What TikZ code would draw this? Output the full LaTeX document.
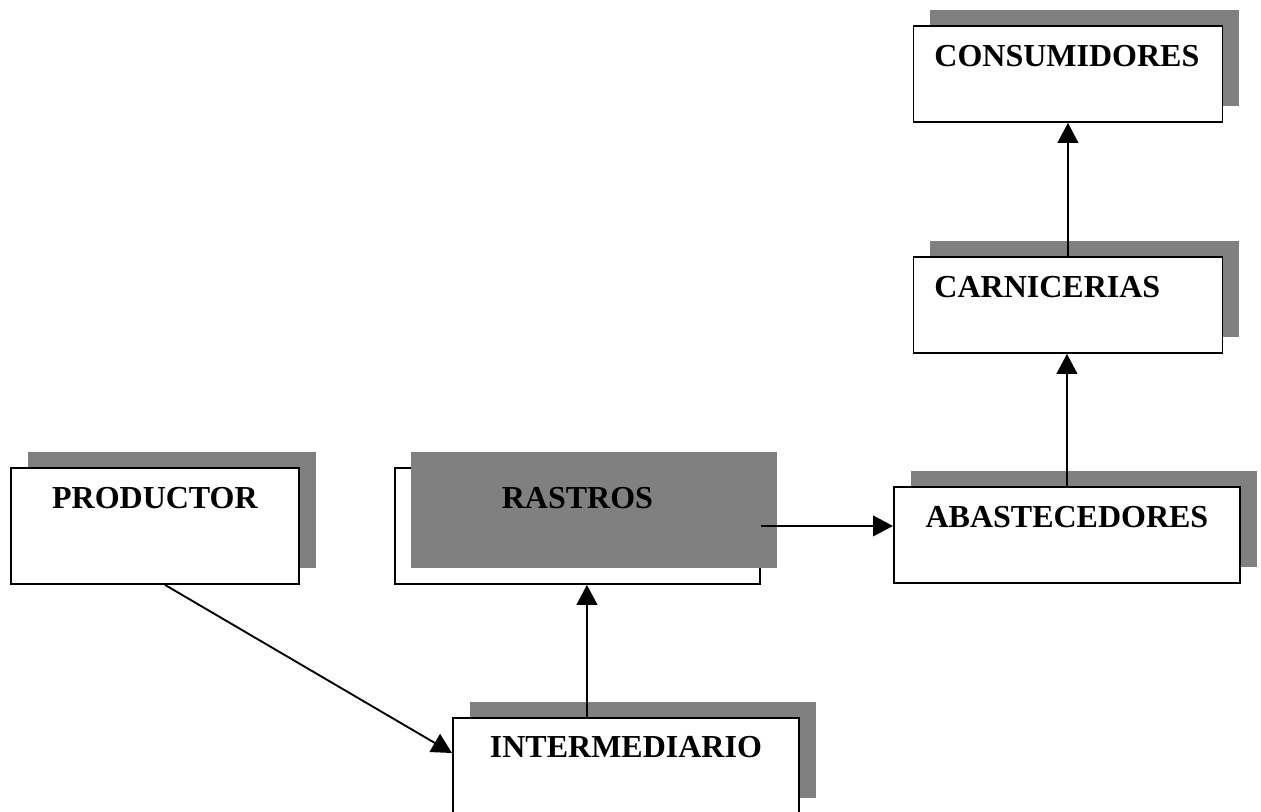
\documentclass[tikz,border=0pt]{standalone}
\usepackage{fontspec}
\setmainfont{Liberation Serif}
\usetikzlibrary{arrows.meta,calc,positioning}

\tikzset{
  caja/.style={draw, fill=white, line width=1.4pt, anchor=north west,
    inner xsep=15.75pt, inner ysep=0pt, text height=30.75pt, text depth=41.25pt,
    font=\fontsize{24}{28}\selectfont\bfseries,
    preaction={fill=black!50, transform canvas={shift={(12.75pt,12pt)}}}},
  cajafrente/.style={caja, preaction={}, postaction={fill=black!50, transform canvas={shift={(12pt,12pt)}}}},
  flecha/.style={line width=1.4pt, -{Triangle[length=15pt,width=15.5pt]}},
}

\begin{document}
\begin{tikzpicture}[x=0.75pt,y=-0.75pt]
\useasboundingbox (0,0) rectangle (1261,811);
\clip (0,0) rectangle (1261,811);

%consumidores
\node[caja, text width=200.25pt, align=left] (consumidores) at (912.5,25) {CONSUMIDORES};
%carnicerias
\node[caja, text width=200.25pt, align=left] (carnicerias) at (912.5,256) {CARNICERIAS};
%abastecedores
\node[caja, text width=228pt, align=center] (abastecedores) at (893,486) {ABASTECEDORES};
%productor
\node[caja, text width=184.5pt, align=center, text depth=56.25pt] (productor) at (10,467) {PRODUCTOR};
%rastros (gris delante)
\node[cajafrente, text width=242.25pt, align=center, text depth=56.25pt] (rastros) at (394,467) {RASTROS};
%intermediario
\node[caja, text width=228pt, align=center, text depth=42pt, text height=30pt] (intermediario) at (452,717) {INTERMEDIARIO};

%flechas
\coordinate (subida) at ($(intermediario.north)+(-39,0)$);
\draw[flecha] ($(productor.south)+(10,0)$) -- ($(intermediario.north west)+(0,36)$);
\draw[flecha] (subida) -- (subida |- rastros.south);
\draw[flecha] (rastros.east) -- (rastros.east -| abastecedores.west);
\draw[flecha] (abastecedores.north) -- (abastecedores.north |- carnicerias.south);
\draw[flecha] (carnicerias.north) -- (consumidores.south);

\end{tikzpicture}
\end{document}
